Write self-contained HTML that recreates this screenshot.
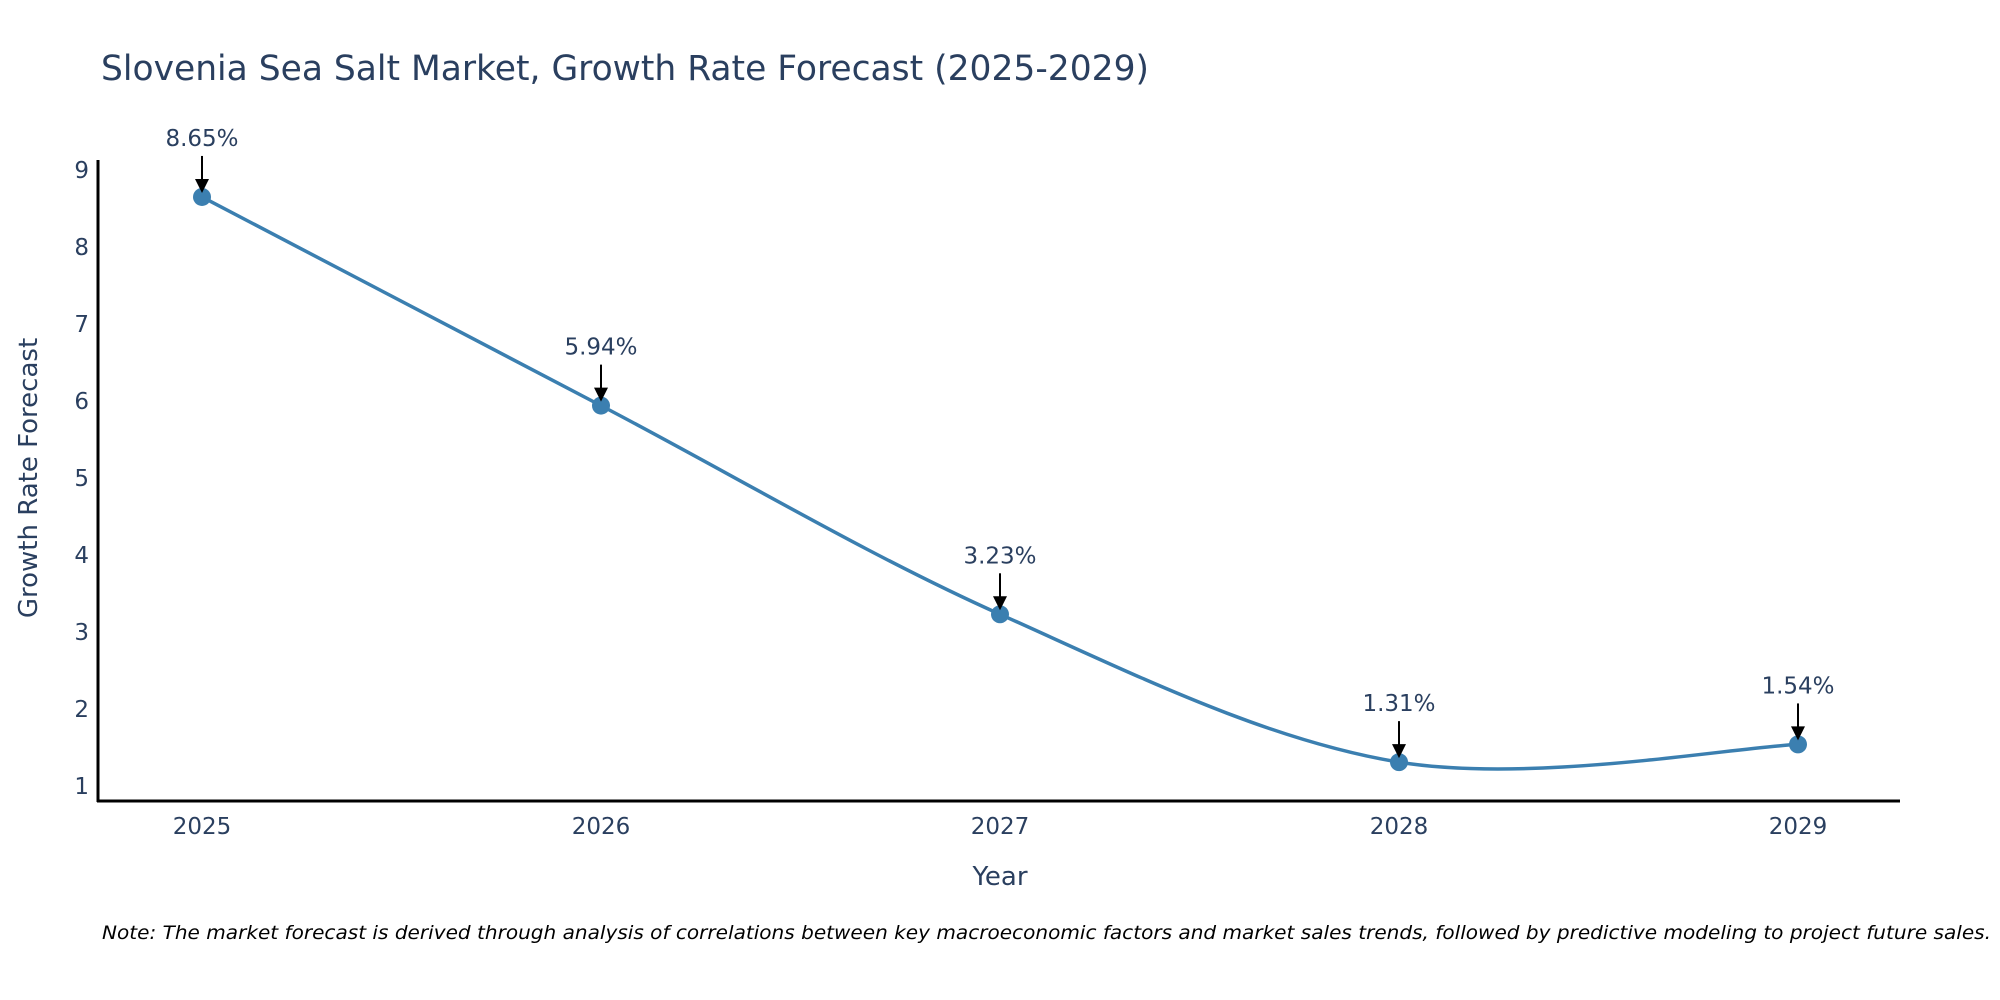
<!DOCTYPE html>
<html><head><meta charset="utf-8"><style>
html,body{margin:0;padding:0;background:#fff;}
svg{display:block;font-family:"DejaVu Sans","Liberation Sans",sans-serif;}
</style></head><body>
<svg id="chart" width="2000" height="1000" viewBox="0 0 2000 1000">
<text x="101" y="80" font-size="35" fill="#2a3f5f" textLength="1048" lengthAdjust="spacingAndGlyphs">Slovenia Sea Salt Market, Growth Rate Forecast (2025-2029)</text>
<g id="yticks"></g>
<g id="xticks"></g>
<path id="line" fill="none" stroke="#3b7fb0" stroke-width="3.5"></path>
<g id="points"></g>
<g id="annots"></g>
<line x1="98" y1="160" x2="98" y2="802" stroke="#000" stroke-width="3"/>
<line x1="97" y1="801" x2="1900" y2="801" stroke="#000" stroke-width="3"/>
<text x="1000" y="885" font-size="26" fill="#2a3f5f" text-anchor="middle">Year</text>
<text x="0" y="0" font-size="26" fill="#2a3f5f" text-anchor="middle" transform="translate(37,478) rotate(-90)">Growth Rate Forecast</text>
<text x="102" y="939" font-size="19" font-style="italic" fill="#000" textLength="1889" lengthAdjust="spacingAndGlyphs">Note: The market forecast is derived through analysis of correlations between key macroeconomic factors and market sales trends, followed by predictive modeling to project future sales.</text>
</svg>
<script>
const years = [2025, 2026, 2027, 2028, 2029];
const values = [8.65, 5.94, 3.23, 1.31, 1.54];
const labels = ["8.65%", "5.94%", "3.23%", "1.31%", "1.54%"];
const yTicks = [1, 2, 3, 4, 5, 6, 7, 8, 9];
const NS = "http://www.w3.org/2000/svg";
function xs(v){ return 202 + (v - 2025) * 399; }
function ys(v){ return 786 - (v - 1) * 77; }
function mk(tag, attrs, parent){ const e = document.createElementNS(NS, tag); for (const k in attrs) e.setAttribute(k, attrs[k]); parent.appendChild(e); return e; }
const yg = document.getElementById('yticks');
yTicks.forEach(t => {
  const e = mk('text', {x: 89, y: ys(t) + 8, 'font-size': 23, fill: '#2a3f5f', 'text-anchor': 'end'}, yg);
  
  
  e.textContent = t;
});
const xg = document.getElementById('xticks');
years.forEach(y => {
  const e = mk('text', {x: xs(y), y: 834, 'font-size': 23, fill: '#2a3f5f', 'text-anchor': 'middle'}, xg);
  
  
  e.textContent = y;
});
const pts = years.map((y, i) => [xs(y), ys(values[i])]);
let d = 'M' + pts[0][0] + ',' + pts[0][1];
for (let i = 0; i < pts.length - 1; i++) {
  const p0 = pts[Math.max(0, i - 1)], p1 = pts[i], p2 = pts[i + 1], p3 = pts[Math.min(pts.length - 1, i + 2)];
  const c1 = [p1[0] + (p2[0] - p0[0]) / 6, p1[1] + (p2[1] - p0[1]) / 6];
  const c2 = [p2[0] - (p3[0] - p1[0]) / 6, p2[1] - (p3[1] - p1[1]) / 6];
  d += ' C' + c1 + ' ' + c2 + ' ' + p2;
}
document.getElementById('line').setAttribute('d', d);
const pg = document.getElementById('points'), ag = document.getElementById('annots');
pts.forEach((p, i) => {
  const c = mk('circle', {cx: p[0], cy: p[1], r: 9, fill: '#3b7fb0'}, pg);
  
  
  const l = mk('line', {x1: p[0], y1: p[1] - 41, x2: p[0], y2: p[1] - 16, stroke: '#000', 'stroke-width': 2}, ag);
  
  
  const h = mk('polygon', {points: (p[0]-7)+','+(p[1]-18)+' '+(p[0]+7)+','+(p[1]-18)+' '+p[0]+','+(p[1]-4), fill: '#000'}, ag);
  
  
  const t = mk('text', {x: p[0], y: p[1] - 51, 'font-size': 23, fill: '#2a3f5f', 'text-anchor': 'middle'}, ag);
  
  
  t.textContent = labels[i];
});
</script>
</body></html>
